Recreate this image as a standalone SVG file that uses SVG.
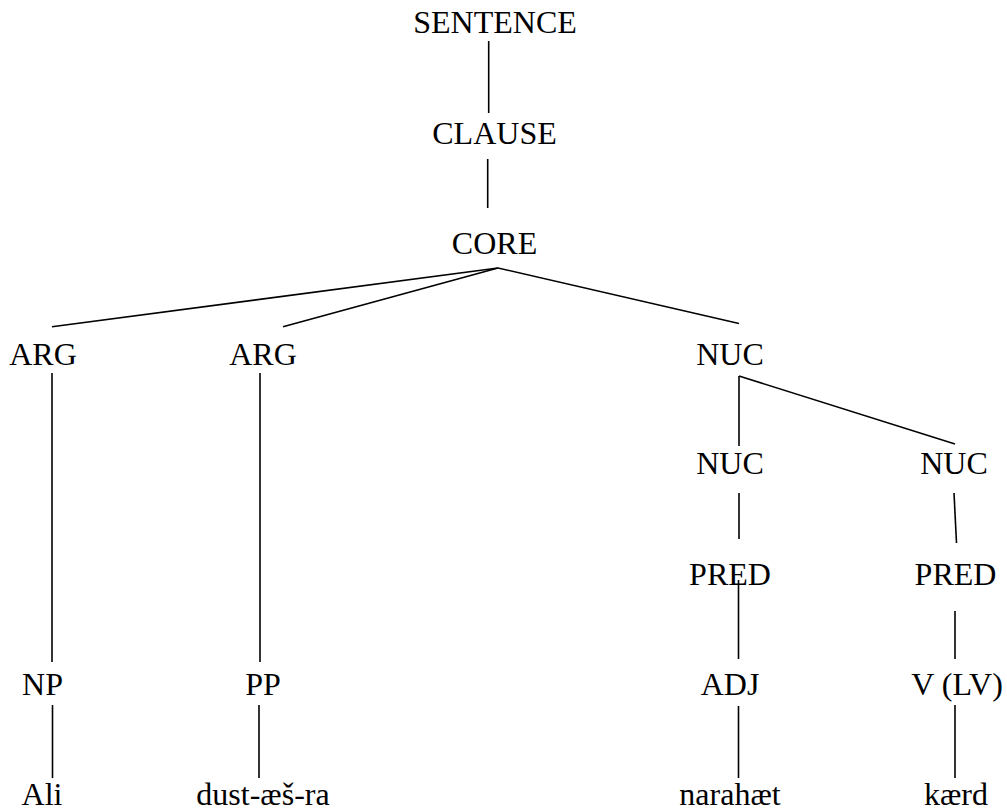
<svg xmlns="http://www.w3.org/2000/svg" width="1007" height="812" viewBox="0 0 1007 812">
<style>
text{font-family:"Liberation Serif","Times New Roman",serif;font-size:32px;fill:#000;text-anchor:middle}
line{stroke:#000;stroke-width:1.6;fill:none}
</style>
<rect width="1007" height="812" fill="#fff"/>
<g id="connectors">
<line x1="488.7" y1="41" x2="488.7" y2="113"/>
<line x1="487.7" y1="159" x2="487.7" y2="208"/>
<line x1="498" y1="268" x2="52" y2="326.7"/>
<line x1="498" y1="268" x2="283" y2="326.7"/>
<line x1="498" y1="268" x2="739" y2="323.5"/>
<line x1="52" y1="373" x2="52" y2="662"/>
<line x1="260" y1="373" x2="260" y2="662"/>
<line x1="739" y1="376" x2="739" y2="446"/>
<line x1="739" y1="376" x2="955" y2="444"/>
<line x1="739" y1="493" x2="739" y2="539"/>
<line x1="954" y1="493" x2="956.5" y2="543"/>
<line x1="738.5" y1="580" x2="738.5" y2="659"/>
<line x1="955" y1="611" x2="955" y2="659"/>
<line x1="52.5" y1="705" x2="52.5" y2="778"/>
<line x1="259" y1="705" x2="259" y2="778"/>
<line x1="738.5" y1="706" x2="738.5" y2="778"/>
<line x1="955" y1="705" x2="955" y2="778"/>
</g>
<g id="sentence"><text x="495" y="33">SENTENCE</text></g>
<g id="clause"><text x="494.5" y="144">CLAUSE</text></g>
<g id="core"><text x="494.5" y="254">CORE</text></g>
<g id="arg1"><text x="43" y="365">ARG</text></g>
<g id="arg2"><text x="263" y="365">ARG</text></g>
<g id="nuc"><text x="730" y="365">NUC</text></g>
<g id="nuc-left"><text x="730" y="474">NUC</text></g>
<g id="nuc-right"><text x="954" y="474">NUC</text></g>
<g id="pred-left"><text x="730" y="585">PRED</text></g>
<g id="pred-right"><text x="955.5" y="585">PRED</text></g>
<g id="np"><text x="42.5" y="695">NP</text></g>
<g id="pp"><text x="263" y="695">PP</text></g>
<g id="adj"><text x="730" y="695">ADJ</text></g>
<g id="v-lv"><text x="957" y="695">V (LV)</text></g>
<g id="ali"><text x="42" y="805">Ali</text></g>
<g id="dust"><text x="263" y="805">dust-æš-ra</text></g>
<g id="narahaet"><text x="730" y="805">narahæt</text></g>
<g id="kaerd"><text x="956" y="805">kærd</text></g>
</svg>
